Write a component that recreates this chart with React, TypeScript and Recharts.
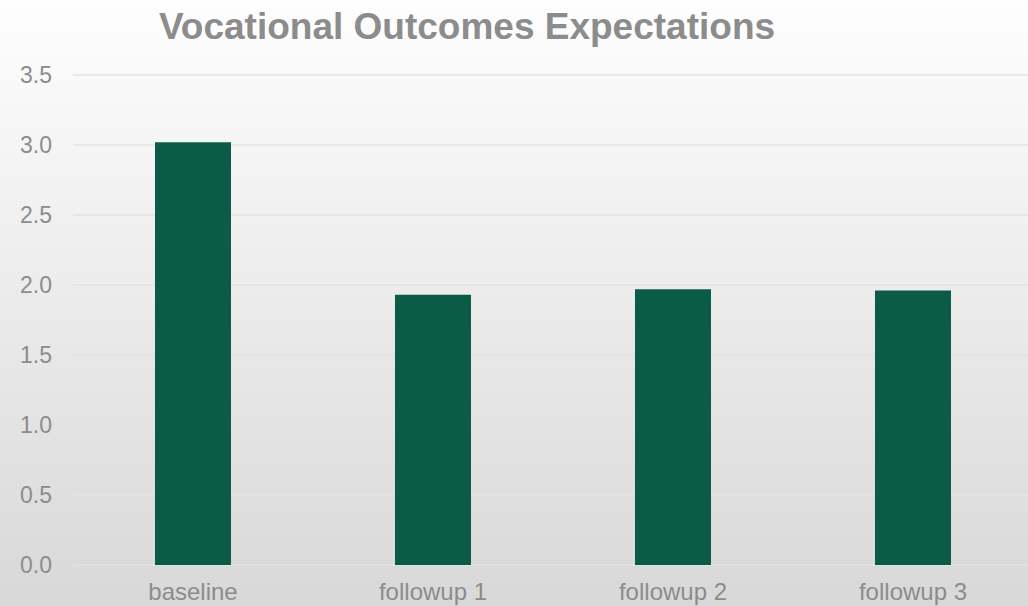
import { BarChart, Bar, XAxis, YAxis, CartesianGrid } from "recharts";

const categories = ["baseline", "followup 1", "followup 2", "followup 3"];
const scores = [3.02, 1.93, 1.97, 1.96];
const yTicks = [0, 0.5, 1, 1.5, 2, 2.5, 3, 3.5];

const data = categories.map((name, i) => ({ name, value: scores[i] }));

const font = "'Liberation Sans', Arial, sans-serif";
const labelColor = "#8c8c8c";

export default function App() {
  return (
    <div
      style={{
        position: "fixed",
        left: 0,
        top: 0,
        width: 1028,
        height: 606,
        overflow: "hidden",
        background: "linear-gradient(#fefefe, #d8d8d8)",
        fontFamily: font,
      }}
    >
      <div
        style={{
          position: "absolute",
          left: 0,
          top: 8,
          width: 934,
          textAlign: "center",
          fontSize: 37,
          lineHeight: "37px",
          fontWeight: "bold",
          color: labelColor,
        }}
      >
        Vocational Outcomes Expectations
      </div>
      <BarChart width={1040} height={606} data={data} margin={{ top: 75, right: 7, left: 0, bottom: 0 }}>
        <CartesianGrid stroke="#e3e3e3" strokeWidth={1.5} vertical={false} />
        <XAxis
          dataKey="name"
          height={41}
          axisLine={false}
          tickLine={false}
          tickMargin={12}
          tick={{ fill: labelColor, fontSize: 24, fontFamily: font }}
        />
        <YAxis
          width={73}
          domain={[0, 3.5]}
          ticks={yTicks}
          axisLine={false}
          tickLine={false}
          tickMargin={15}
          tickFormatter={(v: number) => v.toFixed(1)}
          tick={{ fill: labelColor, fontSize: 23, fontFamily: font }}
        />
        <Bar dataKey="value" fill="#0b5c46" barSize={76} isAnimationActive={false} />
      </BarChart>
    </div>
  );
}
